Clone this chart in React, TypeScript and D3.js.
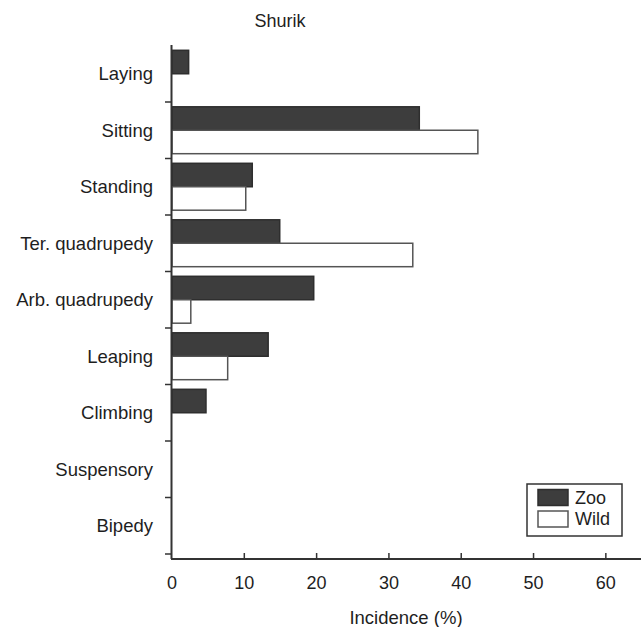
import React from "react";
import * as d3 from "d3";

// Locomotor / postural categories, top to bottom
const categories = [
  "Laying",
  "Sitting",
  "Standing",
  "Ter. quadrupedy",
  "Arb. quadrupedy",
  "Leaping",
  "Climbing",
  "Suspensory",
  "Bipedy",
];

// Incidence (%) per category
const zooValues = [2.3, 34.2, 11.1, 14.9, 19.6, 13.3, 4.7, 0, 0];
const wildValues = [0, 42.3, 10.2, 33.3, 2.6, 7.7, 0, 0, 0];

const series = ["Zoo", "Wild"];
const xTicks = [0, 10, 20, 30, 40, 50, 60];

const W = 641;
const H = 627;
const FONT = "Liberation Sans, Arial, Helvetica, sans-serif";
const AXIS = "#333";
const TEXT = "#1e1e1e";
const ZOO_FILL = "#3d3d3d";
const WILD_FILL = "#ffffff";
const BAR_STROKE = "#555";

export default function App() {
  const x = d3.scaleLinear().domain([0, 65]).range([172, 642]);
  const y = d3.scaleBand<string>().domain(categories).range([45.5, 554]).paddingInner(0.17).paddingOuter(0.085);
  const sub = d3.scaleBand<string>().domain(series).range([0, y.bandwidth()]);
  const step = y.step();
  const top = 45.5;

  const rows = categories.map((c, i) => ({ c, vals: [zooValues[i], wildValues[i]] }));

  return (
    <svg width={W} height={H} style={{ position: "absolute", left: 0, top: 0, background: "#fff" }}>
      <text x={280} y={27} textAnchor="middle" fontFamily={FONT} fontSize={18} fill={TEXT}>
        Shurik
      </text>

      {/* bars */}
      {rows.map((r) =>
        r.vals.map((v, j) =>
          v > 0 ? (
            <rect
              key={r.c + series[j]}
              x={x(0)}
              y={(y(r.c) as number) + (sub(series[j]) as number)}
              width={x(v) - x(0)}
              height={sub.bandwidth()}
              fill={j === 0 ? ZOO_FILL : WILD_FILL}
              stroke={j === 0 ? "#2e2e2e" : BAR_STROKE}
              strokeWidth={1.5}
            />
          ) : null
        )
      )}

      {/* y axis */}
      <line x1={171.5} x2={171.5} y1={45} y2={559} stroke={AXIS} strokeWidth={2} />
      {categories.map((c, i) => (
        <line key={"yt" + c} x1={165} x2={171.5} y1={top + step * (i + 1)} y2={top + step * (i + 1)} stroke={AXIS} strokeWidth={1.5} />
      ))}
      {categories.map((c) => (
        <text
          key={"yl" + c}
          x={153}
          y={(y(c) as number) + y.bandwidth() / 2}
          dy="0.35em"
          textAnchor="end"
          fontFamily={FONT}
          fontSize={18.5}
          fill={TEXT}
        >
          {c}
        </text>
      ))}

      {/* x axis */}
      <line x1={171} x2={641} y1={559} y2={559} stroke={AXIS} strokeWidth={2} />
      {xTicks.map((t) => (
        <g key={"xt" + t}>
          {t > 0 && <line x1={x(t)} x2={x(t)} y1={553} y2={559} stroke={AXIS} strokeWidth={1.5} />}
          <text x={x(t)} y={589} textAnchor="middle" fontFamily={FONT} fontSize={18} fill={TEXT}>
            {t}
          </text>
        </g>
      ))}
      <text x={406} y={624} textAnchor="middle" fontFamily={FONT} fontSize={18.5} fill={TEXT}>
        Incidence (%)
      </text>

      {/* legend */}
      <rect x={527} y={484} width={95} height={52} fill="#fff" stroke={AXIS} strokeWidth={1.5} />
      {series.map((s, j) => (
        <g key={"lg" + s}>
          <rect
            x={538}
            y={489.5 + j * 21.5}
            width={30}
            height={16}
            fill={j === 0 ? ZOO_FILL : WILD_FILL}
            stroke={j === 0 ? "#2e2e2e" : BAR_STROKE}
            strokeWidth={1.5}
          />
          <text x={575} y={497.5 + j * 21.5} dy="0.35em" fontFamily={FONT} fontSize={18} fill={TEXT}>
            {s}
          </text>
        </g>
      ))}
    </svg>
  );
}
